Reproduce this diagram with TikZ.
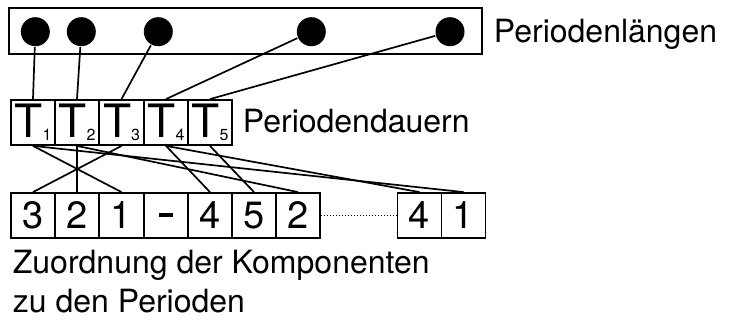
\documentclass[tikz,border=0pt]{standalone}
\usepackage{fontspec}
\setmainfont{TeX Gyre Heros}
\newcommand\perT[1]{{\fontsize{46}{46}\selectfont T\kern0pt\raisebox{-3pt}{\fontsize{16}{16}\selectfont #1}}}
\begin{document}
\begin{tikzpicture}[x=1pt,y=-1pt,line width=1.8pt,
  cell/.style={draw, rectangle, minimum width=44pt, minimum height=45pt, inner sep=0pt,
               font=\fontsize{38}{38}\selectfont},
  dot/.style={circle, fill=black, minimum size=29pt, inner sep=0pt},
  caption/.style={anchor=base west, inner sep=0pt, font=\fontsize{32}{38}\selectfont},
  wire/.style={line width=1.7pt}]
\useasboundingbox (0,0) rectangle (735,320);

% period lengths
\node[draw, rectangle, minimum width=473pt, minimum height=46pt, inner sep=0pt]
  (frame) at (245.5,31) {};
\node[dot] (c1) at (35.3,31.7) {};
\node[dot] (c2) at (81.3,31.7) {};
\node[dot] (c3) at (158.3,31.7) {};
\node[dot] (c4) at (311.3,31.7) {};
\node[dot] (c5) at (450,31.7) {};
\node[caption] (lenlabel) at (493,43) {Periodenlängen};

% period durations
\node[cell] (t1) at (33,122.5) {\perT{1}};
\node[cell] (t2) at (77,122.5) {\perT{2}};
\node[cell] (t3) at (121.5,122.5) {\perT{3}};
\node[cell] (t4) at (166,122.5) {\perT{4}};
\node[cell] (t5) at (210,122.5) {\perT{5}};
\node[caption] (durlabel) at (242,133) {Periodendauern};

% component sequence
\node[cell] (b1) at (33,215.5) {3};
\node[cell] (b2) at (77,215.5) {2};
\node[cell] (b3) at (121.5,215.5) {1};
\node[cell] (b4) at (166,215.5) {\rule{14pt}{4pt}};
\node[cell] (b5) at (210,215.5) {4};
\node[cell] (b6) at (254,215.5) {5};
\node[cell] (b7) at (298,215.5) {2};
\node[cell] (b8) at (419.5,215.5) {4};
\node[cell] (b9) at (463.5,215.5) {1};
\node[caption] (asg1) at (12,273) {Zuordnung der Komponenten};
\node[caption] (asg2) at (12,312) {zu den Perioden};

\draw[dotted, line width=1pt] (b7.east) -- (b8.west);

% lengths to durations
\draw[wire] (c1) -- (t1.north);
\draw[wire] (c2) -- (t2.north);
\draw[wire] (c3) -- (t3.north);
\draw[wire] (c4) -- (t4.north);
\draw[wire] (c5) -- (t5.north);

% durations to components
\draw[wire] (t3.south) -- (b1.north);
\draw[wire] (t2.south) -- (b2.north);
\draw[wire] (t1.south) -- (b3.north);
\draw[wire] (t4.south) -- (b5.north);
\draw[wire] (t5.south) -- (b6.north);
\draw[wire] (t2.south) -- (b7.north);
\draw[wire] (t4.south) -- (b8.north);
\draw[wire] (t1.south) -- (b9.north);
\end{tikzpicture}
\end{document}
